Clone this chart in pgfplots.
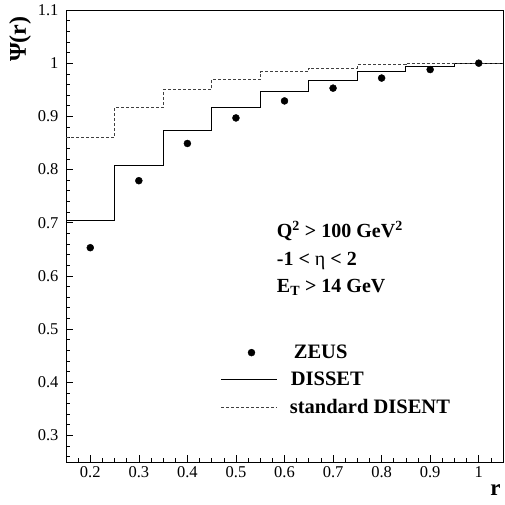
\documentclass[border=0pt]{standalone}
\usepackage{fontspec}
\setmainfont{Liberation Serif}
\usepackage{pgfplots}
\pgfplotsset{compat=1.18}
\pgfplotsset{dotlegend/.style={legend image code/.code={\draw[##1] plot coordinates {(30pt,0pt)};}}}
\begin{document}
\begin{tikzpicture}
\begin{axis}[
  scale only axis,
  width=437pt, height=452pt,
  xmin=0.15, xmax=1.05, ymin=0.25, ymax=1.1,
  xtick={0.2,0.3,0.4,0.5,0.6,0.7,0.8,0.9,1.0},
  xticklabels={0.2,0.3,0.4,0.5,0.6,0.7,0.8,0.9,1},
  ytick={0.3,0.4,0.5,0.6,0.7,0.8,0.9,1.0,1.1},
  yticklabels={0.3,0.4,0.5,0.6,0.7,0.8,0.9,1,1.1},
  minor xtick={0.175,0.225,0.25,0.275,0.325,0.35,0.375,0.425,0.45,0.475,0.525,0.55,0.575,0.625,0.65,0.675,0.725,0.75,0.775,0.825,0.85,0.875,0.925,0.95,0.975,1.025},
  minor ytick={0.26,0.28,0.32,0.34,0.36,0.38,0.42,0.44,0.46,0.48,0.52,0.54,0.56,0.58,0.62,0.64,0.66,0.68,0.72,0.74,0.76,0.78,0.82,0.84,0.86,0.88,0.92,0.94,0.96,0.98,1.02,1.04,1.06,1.08},
  xtick pos=left, ytick pos=left,
  tick align=inside,
  major tick length=7pt, minor tick length=4pt,
  tick style={black, line width=0.6pt},
  axis line style={line width=0.8pt},
  ticklabel style={font=\fontsize{16.5}{18}\selectfont},
  xticklabel style={yshift=-1pt},
  yticklabel style={xshift=-4pt},
  xlabel={\textbf{r}},
  xlabel style={font=\fontsize{23}{24}\selectfont, at={(rel axis cs:1,0)}, anchor=north east, yshift=-19pt, xshift=1pt},
  ylabel={\textbf{Ψ(r)}},
  ylabel style={font=\fontsize{24}{26}\selectfont, at={(rel axis cs:0,1)}, anchor=east, yshift=46pt, xshift=-3pt},
  legend style={draw=none, fill=none, at={(axis cs:0.469,0.474)}, anchor=north west,
    font=\bfseries\fontsize{20.5}{22}\selectfont, row sep=8pt, inner sep=0pt},
  legend cell align=left,
  legend image code/.code={\draw[#1] (0pt,0pt) -- (56pt,0pt);},
  clip=false,
]
\addplot[only marks, mark=*, mark size=3.5pt, black, dotlegend]
  coordinates {(0.2,0.653) (0.3,0.779) (0.4,0.849) (0.5,0.897) (0.6,0.929) (0.7,0.953) (0.8,0.972) (0.9,0.988) (1.0,1.0)};
\addlegendentry{\hspace{14pt}ZEUS}
\addplot[const plot, black, line width=0.8pt]
  coordinates {(0.15,0.704) (0.25,0.807) (0.35,0.873) (0.45,0.916) (0.55,0.946) (0.65,0.967) (0.75,0.984) (0.85,0.993) (0.95,1.0) (1.05,1.0)};
\addlegendentry{\hspace{11pt}DISSET}
\addplot[const plot, black!75, line width=0.7pt, dash pattern=on 3pt off 2pt]
  coordinates {(0.15,0.860) (0.25,0.916) (0.35,0.950) (0.45,0.969) (0.55,0.984) (0.65,0.991) (0.75,0.997) (0.85,1.0) (0.95,1.0) (1.05,1.0)};
\addlegendentry{\hspace{10pt}standard DISENT}
\node[anchor=base west, inner sep=0pt, font=\bfseries\fontsize{20}{22}\selectfont] at (axis cs:0.584,0.672) {Q\textsuperscript{2} > 100 GeV\textsuperscript{2}};
\node[anchor=base west, inner sep=0pt, font=\bfseries\fontsize{20}{22}\selectfont] at (axis cs:0.584,0.620) {-1 < \textmd{η} < 2};
\node[anchor=base west, inner sep=0pt, font=\bfseries\fontsize{20}{22}\selectfont] at (axis cs:0.584,0.569) {E\textsubscript{T} > 14 GeV};
\end{axis}
\pgfresetboundingbox
\path (current axis.south west) +(-66pt,-43pt) (current axis.north east) +(1pt,10pt);
\end{tikzpicture}
\end{document}
